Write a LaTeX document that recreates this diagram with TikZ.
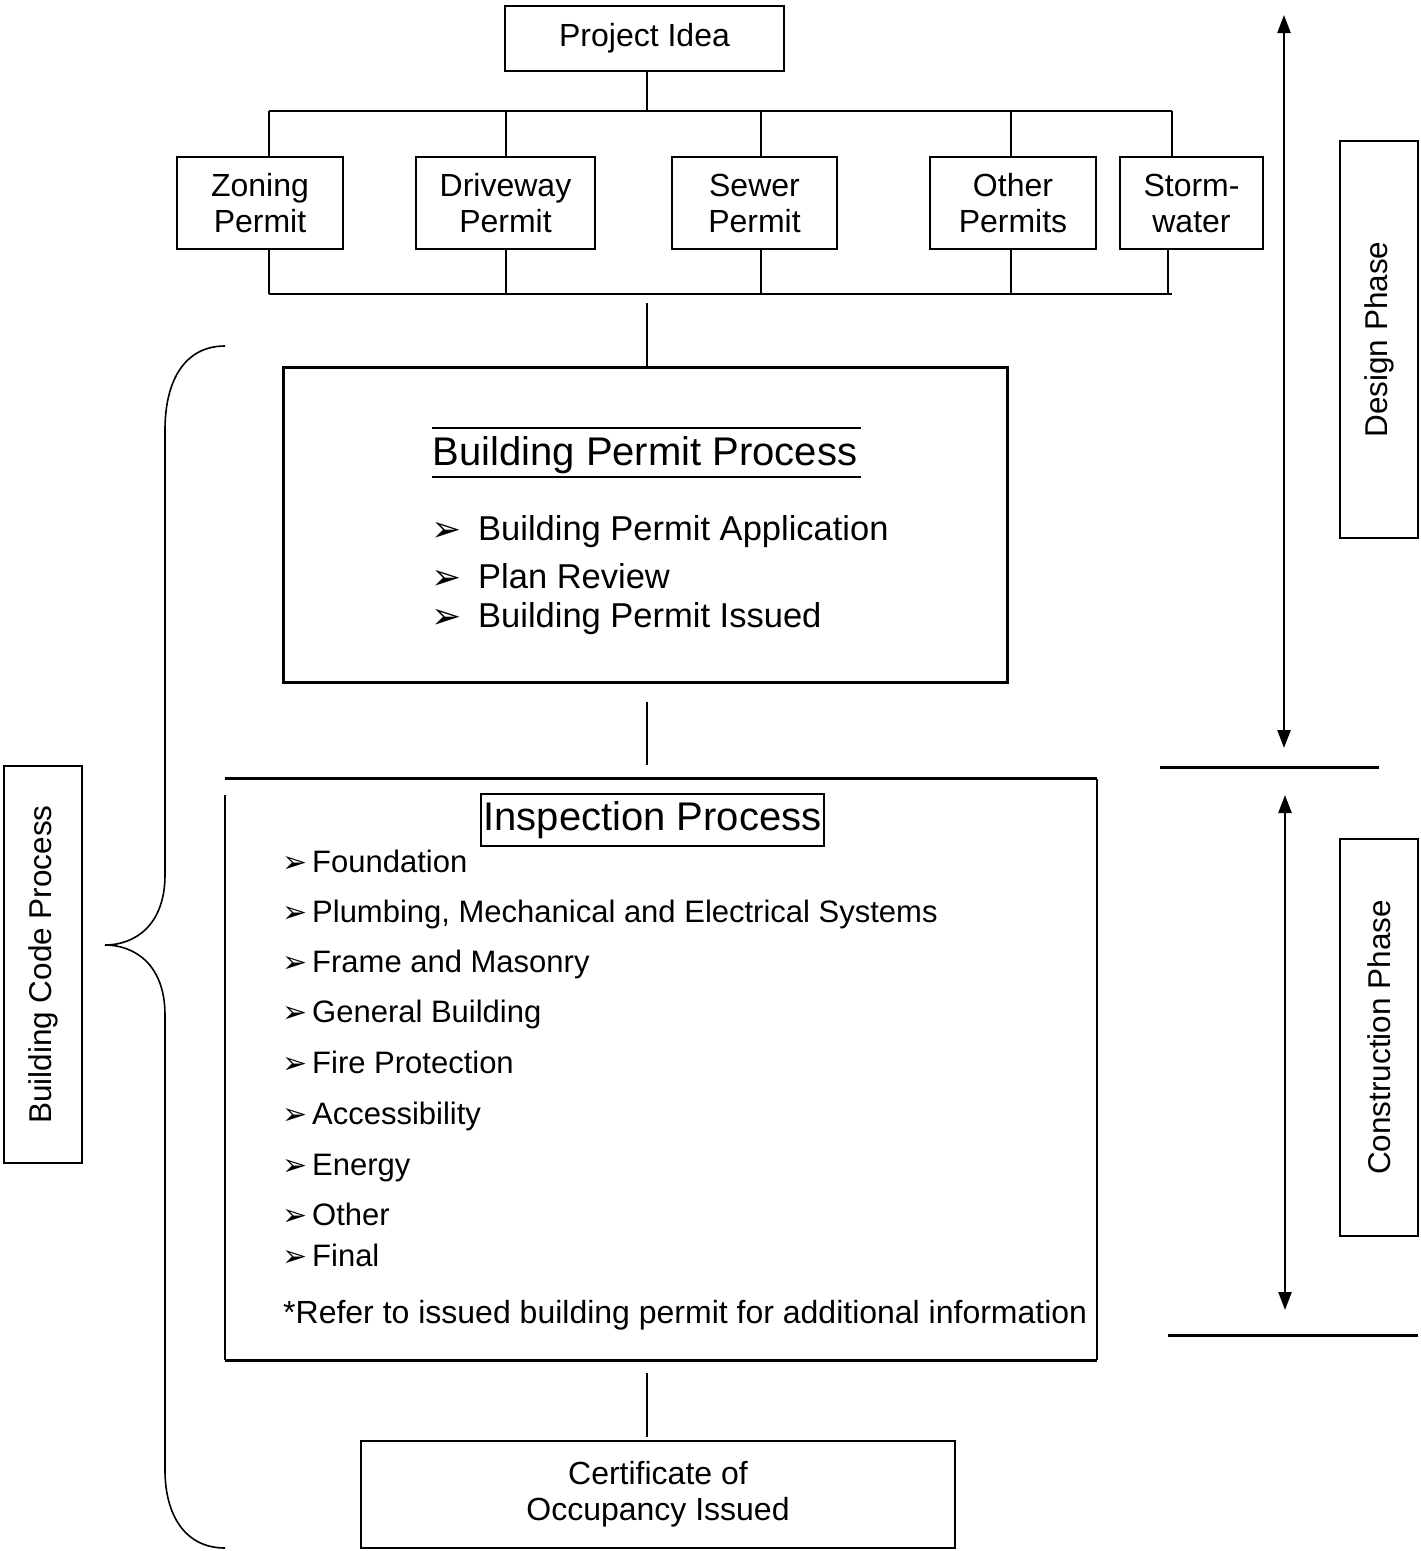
\documentclass[tikz,border=0pt]{standalone}
\usepackage{fontspec}
\setmainfont{Liberation Sans}
\newfontfamily\symfont{DejaVu Sans}
\usetikzlibrary{arrows.meta,calc}
\begin{document}
\begin{tikzpicture}[x=1pt,y=-1pt,
  box/.style={draw, line width=1.8pt, inner sep=0pt, align=center, font=\fontsize{32}{36}\selectfont},
  sidebox/.style={draw, line width=1.6pt, inner sep=0pt, rotate=90, minimum width=397, minimum height=78, font=\fontsize{31.5}{36}\selectfont},
  conn/.style={line width=1.6pt},
  bus/.style={line width=2.4pt},
  item/.style={anchor=base west, inner sep=0pt, font=\fontsize{31}{34}\selectfont},
  bitem/.style={anchor=base west, inner sep=0pt, font=\fontsize{34.5}{38}\selectfont},
  bul/.style={anchor=base west, inner sep=0pt, font=\symfont\fontsize{30}{30}\selectfont},
  bbul/.style={anchor=base west, inner sep=0pt, font=\symfont\fontsize{36}{36}\selectfont},
  phasearrow/.style={line width=2.4pt, {Triangle[length=18pt,width=13pt]}-{Triangle[length=18pt,width=13pt]}},
  sep/.style={line width=3pt}]
\useasboundingbox (0,0) rectangle (1421,1551);

% top permits
\node[box, minimum width=279, minimum height=65] (idea) at (644.5,38.5) {Project Idea};
\node[box, minimum width=166, minimum height=92] (zoning) at (260,203) {Zoning\\Permit};
\node[box, minimum width=179, minimum height=92] (drive) at (505.5,203) {Driveway\\Permit};
\node[box, minimum width=165, minimum height=92] (sewer) at (754.5,203) {Sewer\\Permit};
\node[box, minimum width=166, minimum height=92] (other) at (1013,203) {Other\\Permits};
\node[box, minimum width=143, minimum height=92] (storm) at (1191.5,203) {Storm-\\water};

\coordinate (tl) at (269,111);
\coordinate (tr) at (1172,111);
\coordinate (bl) at (269,294);
\coordinate (br) at (1172,294);
\coordinate (busmid) at (647,294);
\coordinate (mid) at (647,0);
\coordinate (xd) at (506,0);
\coordinate (xs) at (761,0);
\coordinate (xo) at (1011,0);
\coordinate (xst) at (1168,0);

\draw[conn] (idea.south -| mid) -- (tl -| mid);
\draw[bus] (tl) -- (tr);
\draw[bus] (bl) -- (br);
\draw[conn] (tl) -- (tl |- zoning.north);
\draw[conn] (zoning.south -| tl) -- (bl);
\draw[conn] (tl -| xd) -- (drive.north -| xd);
\draw[conn] (drive.south -| xd) -- (bl -| xd);
\draw[conn] (tl -| xs) -- (sewer.north -| xs);
\draw[conn] (sewer.south -| xs) -- (bl -| xs);
\draw[conn] (tl -| xo) -- (other.north -| xo);
\draw[conn] (other.south -| xo) -- (bl -| xo);
\draw[conn] (tr) -- (tr |- storm.north);
\draw[conn] (storm.south -| xst) -- (bl -| xst);

% building permit process
\node[draw, line width=3pt, minimum width=724, minimum height=315, inner sep=0pt] (bpp) at (645,524.5) {};
\draw[conn, shorten <=9pt] (busmid) -- (bpp.north -| mid);
\node[anchor=base, inner sep=0pt, font=\fontsize{40}{44}\selectfont] (bppt) at (645,465) {Building Permit Process};
\draw[line width=2.4pt] (432,428) -- (861,428);
\draw[line width=2.4pt] (432,477) -- (861,477);
\node[bbul] (bb1) at (431,541) {➢};
\node[bbul] (bb2) at (431,589) {➢};
\node[bbul] (bb3) at (431,628) {➢};
\node[bitem] (bi1) at (478,540) {Building Permit Application};
\node[bitem] (bi2) at (478,588) {Plan Review};
\node[bitem] (bi3) at (478,627) {Building Permit Issued};

% inspection process
\node[minimum width=872, minimum height=581, inner sep=0pt] (insp) at (661,1069.5) {};
\draw[line width=3pt] (insp.north west) -- (insp.north east);
\draw[line width=1.8pt] ($(insp.north west)+(0,16)$) -- (insp.south west);
\draw[line width=1.8pt] (insp.north east) -- (insp.south east);
\draw[line width=3pt] (insp.south west) -- (insp.south east);
\draw[conn, shorten <=18pt, shorten >=14pt] (bpp.south -| mid) -- (insp.north -| mid);

\node[draw, line width=1.8pt, minimum width=343, minimum height=52, inner sep=0pt, font=\fontsize{40}{44}\selectfont] (ipt) at (652.5,820) {Inspection Process};

\foreach \n/\y/\t in {1/872/Foundation, 2/922/{Plumbing, Mechanical and Electrical Systems}, 3/972/Frame and Masonry, 4/1022/General Building, 5/1073/Fire Protection, 6/1124/Accessibility, 7/1175/Energy, 8/1225/Other, 9/1266/Final}{
  \node[bul] (ib\n) at (282,\y) {➢};
  \node[item] (ii\n) at (312,\y) {\t};
}
\node[anchor=base west, inner sep=0pt, font=\fontsize{32}{36}\selectfont] (note) at (283,1323) {*Refer to issued building permit for additional information};

% certificate
\node[box, minimum width=594, minimum height=107] (cert) at (658,1494.5) {Certificate of\\Occupancy Issued};
\draw[conn, shorten <=13pt, shorten >=3pt] (insp.south -| mid) -- (cert.north -| mid);

% brace and left label
\node[sidebox] (bcp) at (43,964.5) {Building Code Process};
\draw[line width=1.6pt] (225,346) .. controls (185,346) and (165,380) .. (165,430)
  -- (165,875) .. controls (165,925) and (135,945) .. (105,945)
  .. controls (135,945) and (165,965) .. (165,1015)
  -- (165,1470) .. controls (165,1515) and (185,1548) .. (225,1548);

% phases
\node[sidebox] (design) at (1379,339.5) {Design Phase};
\node[sidebox] (constr) at (1379,1037.5) {Construction Phase};
\coordinate (da) at (1284,15);
\coordinate (db) at (1284,748);
\coordinate (ca) at (1285,795);
\coordinate (cb) at (1285,1310);
\draw[phasearrow] (da) -- (db);
\draw[phasearrow] (ca) -- (cb);
\coordinate (s1a) at (1160,767);
\coordinate (s1b) at (1379,767);
\coordinate (s2a) at (1168,1335);
\coordinate (s2b) at (1418,1335);
\draw[sep] (s1a) -- (s1b);
\draw[sep] (s2a) -- (s2b);
\end{tikzpicture}
\end{document}
